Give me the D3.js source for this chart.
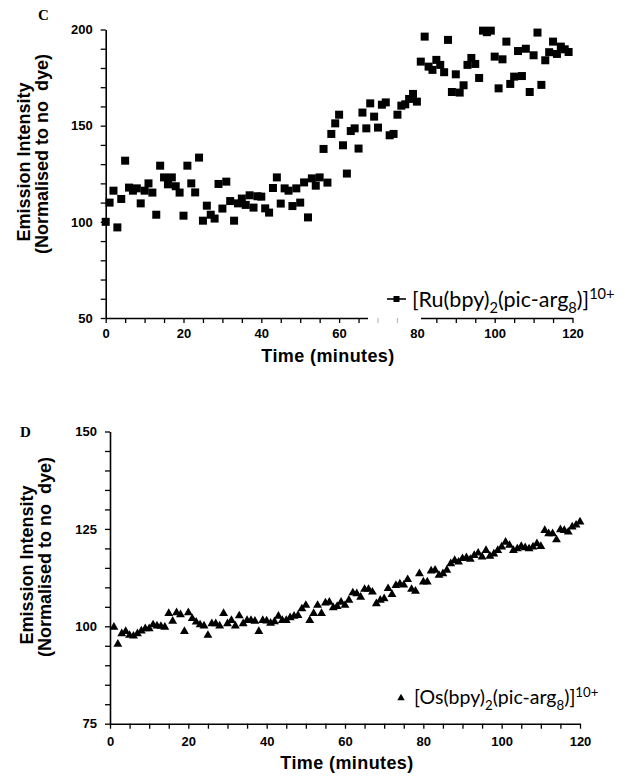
<!DOCTYPE html>
<html>
<head>
<meta charset="utf-8">
<script src="https://cdn.jsdelivr.net/npm/d3@7"></script>
<style>
  html, body { margin: 0; padding: 0; background: #fff; }
  svg { display: block; }
  .tick text { font-family: "Liberation Sans", Arial, sans-serif; font-weight: bold; font-size: 13px; fill: #000; }
  .axis path, .axis line { stroke: #000; }
</style>
</head>
<body>
<svg id="chart" width="625" height="776"></svg>
<script>
// ---------- Data ----------
// Panel C: [Ru(bpy)2(pic-arg8)]10+ , one reading per minute
const ruMinutes = d3.range(0, 120);
const ruValues = [
  100, 110, 116.2, 97.1, 111.9, 131.8, 117.8, 116.2, 117.4, 109.6,
  116.2, 120, 115.2, 103.7, 129.2, 123.1, 119.5, 123.1, 118.5, 115.2,
  103.2, 129.2, 120, 115.3, 133.4, 100.6, 108.4, 103.7, 101.7, 119.7,
  106.9, 120.9, 110.8, 100.6, 109.6, 112.1, 108.8, 113.8, 107.4, 113.3,
  113.1, 107.0, 104.8, 117.6, 123.1, 109.5, 117.4, 116.2, 108.2, 117.4,
  110.0, 120.5, 102.3, 122.6, 118.8, 123.1, 137.9, 120.4, 145.7, 151.2,
  155.7, 139.8, 125.1, 147.2, 148.6, 138.1, 156.8, 148.6, 161.6, 154.7,
  149.0, 160.9, 162.1, 145.0, 145.7, 155.7, 160.4, 161.1, 163.9, 166.5,
  162.5, 183.3, 196.3, 180.7, 179.0, 184.2, 181.6, 177.8, 194.6, 167.5,
  176.7, 167.2, 171.0, 181.6, 185.2, 182.1, 174.8, 199.4, 198.6, 199.4,
  185.9, 169.4, 184.5, 193.7, 171.7, 175.5, 188.8, 175.8, 190.0, 167.5,
  186.6, 198.4, 171.2, 184.0, 188.2, 193.7, 187.3, 191.1, 189.7, 188.3
];

// Panel D: [Os(bpy)2(pic-arg8)]10+ , one reading per minute
const osMinutes = d3.range(1, 121);
const osValues = [
  99.8, 95.4, 98.1, 98.7, 97.7, 97.5, 98.1, 98.8, 99.4, 99.4,
  100.4, 100.1, 100.0, 99.8, 103.3, 101.3, 103.5, 103.0, 98.7, 103.5,
  102.0, 101.1, 100.4, 100.1, 97.7, 100.7, 100.7, 100.1, 103.3, 100.7,
  101.5, 100.1, 102.7, 100.7, 101.5, 101.5, 101.3, 98.7, 101.5, 101.4,
  100.8, 101.2, 102.6, 101.5, 101.5, 102.2, 102.6, 102.8, 104.5, 105.4,
  101.5, 103.3, 105.4, 103.3, 106.0, 106.2, 104.8, 105.1, 106.2, 105.4,
  106.7, 108.6, 108.4, 107.5, 109.5, 109.5, 108.8, 105.8, 106.7, 107.1,
  109.7, 108.2, 110.5, 110.9, 110.6, 112.0, 109.5, 109.0, 113.5, 111.4,
  111.4, 114.2, 114.4, 113.1, 113.5, 114.4, 116.1, 116.9, 116.5, 117.4,
  117.6, 117.2, 118.2, 118.8, 117.8, 119.5, 118.0, 118.6, 119.5, 120.4,
  121.6, 120.8, 119.5, 119.9, 120.5, 120.2, 119.9, 120.4, 121.2, 120.5,
  124.6, 123.8, 123.8, 122.2, 124.8, 124.6, 124.2, 125.5, 126.0, 126.8
];

const xTicksMajor = [0, 20, 40, 60, 80, 100, 120];
const yTicksC = [50, 100, 150, 200];
const yTicksD = [75, 100, 125, 150];
const axisTitleX = "Time (minutes)";
const axisTitleY1 = "Emission Intensity";
const axisTitleY2 = "(Normalised to no  dye)";

// ---------- Drawing ----------
const svg = d3.select("#chart");
const boldSans = '"Liberation Sans", Arial, sans-serif';

function panel(opt) {
  const x = d3.scaleLinear().domain([0, 120]).range([opt.x0, opt.x1]);
  const y = d3.scaleLinear().domain(opt.yDomain).range([opt.y0, opt.y1]);
  const g = svg.append("g");

  // x axis
  const xa = g.append("g").attr("class", "axis")
    .attr("transform", `translate(0,${opt.y0})`)
    .call(d3.axisBottom(x)
      .tickValues(d3.range(0, 121, 5))
      .tickFormat(d => xTicksMajor.includes(d) ? d : "")
      .tickSize(5).tickSizeOuter(0).tickPadding(opt.xPad));
  xa.select(".domain").attr("stroke-width", 1.6);
  xa.selectAll(".tick line").attr("stroke-width", 1.3);

  // y axis
  const ya = g.append("g").attr("class", "axis")
    .attr("transform", `translate(${opt.x0},0)`)
    .call(d3.axisLeft(y)
      .tickValues(d3.range(opt.yDomain[0], opt.yDomain[1] + 0.01, opt.yMinor))
      .tickFormat(d => opt.yMajor.includes(d) ? d : "")
      .tickSize(5).tickSizeOuter(0).tickPadding(8));
  ya.select(".domain").attr("stroke-width", 1.6);
  ya.selectAll(".tick line").attr("stroke-width", 1.3);

  // panel letter
  g.append("text").attr("x", opt.letterX).attr("y", opt.letterY)
    .attr("font-family", '"Liberation Serif", "Times New Roman", serif')
    .attr("font-weight", "bold").attr("font-size", 15)
    .text(opt.letter);

  // axis titles
  g.append("text").attr("x", opt.xTitleX).attr("y", opt.xTitleY)
    .attr("text-anchor", "middle").attr("font-family", boldSans)
    .attr("font-weight", "bold").attr("font-size", 18).attr("letter-spacing", 0.4)
    .text(axisTitleX);
  g.append("text")
    .attr("transform", `translate(${opt.yT1x},${opt.yT1y}) rotate(-90)`)
    .attr("text-anchor", "middle").attr("font-family", boldSans)
    .attr("font-weight", "bold").attr("font-size", 18)
    .text(axisTitleY1);
  g.append("text")
    .attr("transform", `translate(${opt.yT2x},${opt.yT2y}) rotate(-90)`)
    .attr("text-anchor", "middle").attr("font-family", boldSans)
    .attr("font-weight", "bold").attr("font-size", 18)
    .style("white-space", "pre")
    .text(axisTitleY2);

  return { g, x, y };
}

// ----- Panel C -----
const C = panel({
  x0: 105.7, x1: 572.5, y0: 318, y1: 29.5, yDomain: [50, 200],
  yMinor: 10, yMajor: yTicksC, xPad: 6,
  letter: "C", letterX: 38, letterY: 20,
  xTitleX: 328, xTitleY: 362,
  yT1x: 30, yT1y: 162, yT2x: 48, yT2y: 154
});

// legend background masking part of the x axis
C.g.append("rect").attr("x", 368).attr("y", 315).attr("width", 53).attr("height", 8).attr("fill", "#fff");
[70, 75].forEach(t => {
  C.g.append("line").attr("x1", C.x(t)).attr("x2", C.x(t))
    .attr("y1", 318).attr("y2", 323).attr("stroke", "#bbb").attr("stroke-width", 1.2);
});

C.g.append("g").selectAll("rect.pt")
  .data(ruMinutes.map((m, i) => [m, ruValues[i]]))
  .join("rect").attr("class", "pt")
  .attr("x", d => C.x(d[0]) - 4).attr("y", d => C.y(d[1]) - 4)
  .attr("width", 8).attr("height", 8).attr("fill", "#000");

// legend C
const legFont = 'Lato, "Open Sans", sans-serif';
C.g.append("line").attr("x1", 387).attr("x2", 406).attr("y1", 299).attr("y2", 299)
  .attr("stroke", "#000").attr("stroke-width", 1.6);
C.g.append("rect").attr("x", 393.5).attr("y", 296).attr("width", 6).attr("height", 6).attr("fill", "#000");
function legendText(g, x, yb, size, name) {
  const t = g.append("text").attr("x", x).attr("y", yb)
    .attr("font-family", legFont).attr("font-size", size).attr("fill", "#000");
  t.append("tspan").text(`[${name}(bpy)`);
  t.append("tspan").attr("font-size", size * 0.68).attr("dy", size * 0.3).text("2");
  t.append("tspan").attr("dy", -size * 0.3).text("(pic-arg");
  t.append("tspan").attr("font-size", size * 0.68).attr("dy", size * 0.3).text("8");
  t.append("tspan").attr("dy", -size * 0.3).text(")]");
  t.append("tspan").attr("font-size", size * 0.68).attr("dy", -size * 0.38).text("10+");
}
legendText(C.g, 412, 307, 21.5, "Ru");

// ----- Panel D -----
const D = panel({
  x0: 110, x1: 580, y0: 723.7, y1: 431.5, yDomain: [75, 150],
  yMinor: 5, yMajor: yTicksD, xPad: 8.5,
  letter: "D", letterX: 20, letterY: 437,
  xTitleX: 347, xTitleY: 769,
  yT1x: 33, yT1y: 565, yT2x: 51, yT2y: 557
});

const tri = d3.symbol().type(d3.symbolTriangle).size(34);
D.g.append("g").selectAll("path.pt")
  .data(osMinutes.map((m, i) => [m, osValues[i]]))
  .join("path").attr("class", "pt")
  .attr("d", tri)
  .attr("transform", d => `translate(${D.x(d[0])},${D.y(d[1])})`)
  .attr("fill", "#000");

// legend D
D.g.append("path").attr("d", d3.symbol().type(d3.symbolTriangle).size(24))
  .attr("transform", "translate(401,698)").attr("fill", "#000");
legendText(D.g, 414, 704, 19.5, "Os");
</script>
</body>
</html>
